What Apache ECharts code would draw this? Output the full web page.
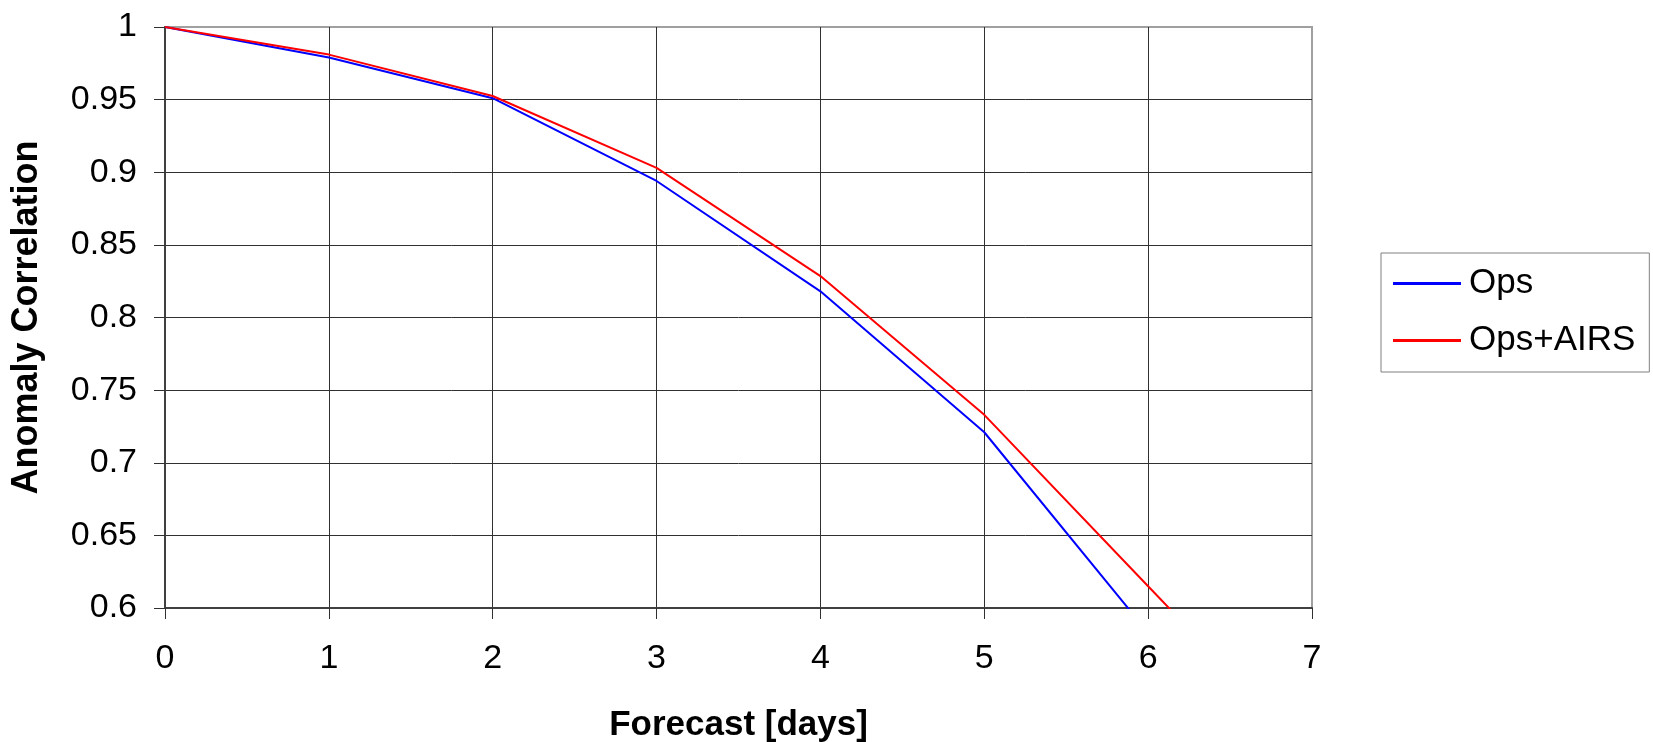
<!DOCTYPE html>
<html>
<head>
<meta charset="utf-8">
<script src="https://cdn.jsdelivr.net/npm/echarts@6/dist/echarts.min.js"></script>
<style>
  html, body { margin: 0; padding: 0; background: #fff; }
  #chart { width: 1653px; height: 742px; }
</style>
</head>
<body>
<div id="chart"></div>
<script>
// forecast day, x axis
const days = [0, 1, 2, 3, 4, 5, 6, 7]
// anomaly correlation per series (values below 0.6 are clipped by the axis)
const ops = [1, 0.979, 0.951, 0.894, 0.818, 0.721, 0.583, 0.445]
const opsAirs = [1, 0.981, 0.9525, 0.903, 0.8285, 0.733, 0.615, 0.497]
const seriesNames = ['Ops', 'Ops+AIRS']

const FONT = 'Liberation Sans, Arial, sans-serif'

let toPairs = (xs, ys) => xs.map((x, i) => [x, ys[i]])

let chart = echarts.init(document.getElementById('chart'))

let opts = {
  animation: false,
  textStyle: { fontFamily: FONT },
  grid: {
    left: 165,
    right: 341,
    top: 27,
    bottom: 134,
    outerBoundsMode: 'none', // keep the plot where it is, labels may sit near the edge
    containLabel: false,
    show: true,
    borderColor: '#a0a0a0',
    borderWidth: 2
  },
  legend: {
    orient: 'vertical',
    left: 1381,
    top: 253,
    padding: [13, 14, 14, 12],
    itemGap: 22,
    itemWidth: 68,
    itemHeight: 3,
    icon: 'rect',
    borderColor: '#808080',
    borderWidth: 1,
    textStyle: { fontSize: 35, color: '#000', fontFamily: FONT, padding: [0, 0, 0, 3] },
    data: seriesNames
  },
  xAxis: {
    type: 'value',
    min: 0,
    max: 7,
    interval: 1,
    name: 'Forecast [days]',
    nameLocation: 'middle',
    nameGap: 100,
    nameTextStyle: { fontSize: 35, fontWeight: 'bold', color: '#000' },
    axisLine: { lineStyle: { color: '#404040', width: 2 } },
    axisTick: { show: true, length: 11, lineStyle: { color: '#303030' } },
    axisLabel: { fontSize: 34, color: '#000', margin: 34 },
    splitLine: { show: true, showMinLine: false, showMaxLine: false, lineStyle: { color: '#303030', width: 1 } }
  },
  yAxis: {
    type: 'value',
    min: 0.6,
    max: 1,
    interval: 0.05,
    name: 'Anomaly Correlation',
    nameLocation: 'middle',
    nameGap: 120,
    nameRotate: 90,
    nameTextStyle: { fontSize: 36, fontWeight: 'bold', color: '#000' },
    axisLine: { show: true, lineStyle: { color: '#404040', width: 2 } },
    axisTick: { show: true, length: 11, lineStyle: { color: '#303030' } },
    axisLabel: { fontSize: 34, color: '#000', margin: 28 },
    splitLine: { show: true, showMinLine: false, showMaxLine: false, lineStyle: { color: '#303030', width: 1 } }
  },
  series: [
    {
      name: seriesNames[0],
      type: 'line',
      data: toPairs(days, ops),
      symbol: 'none',
      clip: true,
      color: '#0000ff',
      lineStyle: { color: '#0000ff', width: 2 }
    },
    {
      name: seriesNames[1],
      type: 'line',
      data: toPairs(days, opsAirs),
      symbol: 'none',
      clip: true,
      color: '#ff0000',
      lineStyle: { color: '#ff0000', width: 2 }
    }
  ]
}

chart.setOption(opts)
</script>
</body>
</html>
